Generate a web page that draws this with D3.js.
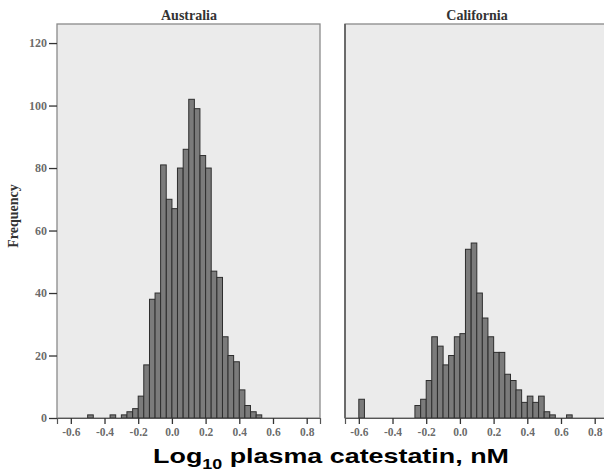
<!DOCTYPE html>
<html><head><meta charset="utf-8">
<script src="https://cdn.jsdelivr.net/npm/d3@7"></script>
<style>body{margin:0;background:#fff}svg{display:block}</style>
</head><body>
<script>
// Histogram bins: lower edges (bin width = 1/30 in log10 units)
const binWidth = 1 / 30;
const binStarts = [-0.600,-0.567,-0.533,-0.500,-0.467,-0.433,-0.400,-0.367,-0.333,-0.300,
  -0.267,-0.233,-0.200,-0.167,-0.133,-0.100,-0.067,-0.033,0.000,0.033,
  0.067,0.100,0.133,0.167,0.200,0.233,0.267,0.300,0.333,0.367,
  0.400,0.433,0.467,0.500,0.533,0.567,0.600,0.633];
const australia = [0,0,0,1,0,0,0,1,0,1,
  2,3,7,17,38,40,81,70,67,80,
  86,102,99,84,80,47,45,26,20,18,
  9,4,2,1,0,0,0,0];
const california = [6,0,0,0,0,0,0,0,0,0,
  4,6,12,26,23,17,20,26,27,54,
  56,40,32,26,21,21,14,12,9,5,
  7,5,7,2,1,0,0,1];
const panelTitles = ["Australia", "California"];
const xTicks = [-0.6,-0.4,-0.2,0.0,0.2,0.4,0.6,0.8];
const yTicks = [0,20,40,60,80,100,120];

(function () {
const W = 604, H = 475;
const svg = d3.select("body").append("svg").attr("width", W).attr("height", H);
svg.append("rect").attr("width", W).attr("height", H).attr("fill", "#fff");

const plotTop = 24, plotBottom = 418, panelW = 263;
const panelLefts = [57, 345];
const y = d3.scaleLinear().domain([0, 126.1]).range([plotBottom, plotTop]);
const serif = "'Liberation Serif','DejaVu Serif',serif";

[australia, california].forEach((counts, p) => {
  const left = panelLefts[p];
  const x = d3.scaleLinear().domain([-0.682, 0.879]).range([left, left + panelW]);
  const g = svg.append("g");
  g.append("rect").attr("x", left).attr("y", plotTop).attr("width", panelW).attr("height", plotBottom - plotTop)
    .attr("fill", "#ebebeb").attr("stroke", "#8a8a8a").attr("stroke-width", 1.3);
  if (p === 1) {
    g.append("line").attr("x1", left).attr("x2", left).attr("y1", plotTop).attr("y2", plotBottom)
      .attr("stroke", "#555").attr("stroke-width", 1.5);
  }
  g.selectAll("rect.bar").data(binStarts.map((s, i) => ({s, c: counts[i]})))
    .join("rect").attr("class", "bar")
    .attr("x", d => x(d.s)).attr("width", d => x(d.s + binWidth) - x(d.s))
    .attr("y", d => y(d.c)).attr("height", d => y(0) - y(d.c))
    .attr("fill", "#7b7b7b").attr("stroke", "#2e2e2e").attr("stroke-width", 1);
  const xa = g.append("g").attr("transform", `translate(0,${plotBottom})`)
    .call(d3.axisBottom(x).tickValues(xTicks).tickSize(6).tickPadding(4));
  xa.select(".domain").attr("stroke", "#555").attr("stroke-width", 1.2);
  xa.selectAll(".tick line").attr("stroke", "#333").attr("stroke-width", 1.3);
  xa.selectAll(".tick text").attr("font-family", serif).attr("font-size", 11.5).attr("fill", "#444")
    .attr("font-weight", "bold").attr("fill-opacity", 0.8)
    .text(d => d3.format(".1f")(d).replace("\u2212", "-"));
  svg.append("text").attr("x", left + panelW / 2 + 0.5).attr("y", 20).attr("text-anchor", "middle")
    .attr("font-family", serif).attr("font-weight", "bold").attr("font-size", 14).attr("fill", "#333")
    .text(panelTitles[p]);
  if (p === 0) {
    const ya = g.append("g").attr("transform", `translate(${left},0)`)
      .call(d3.axisLeft(y).tickValues(yTicks).tickSize(8).tickPadding(2));
    ya.select(".domain").remove();
    ya.selectAll(".tick line").attr("stroke", "#333").attr("stroke-width", 1.3);
    ya.selectAll(".tick text").attr("font-family", serif).attr("font-size", 12).attr("fill", "#444")
      .attr("font-weight", "bold").attr("fill-opacity", 0.8);
  }
});

svg.append("text").attr("transform", "translate(18,216) rotate(-90)").attr("text-anchor", "middle")
  .attr("font-family", serif).attr("font-weight", "bold").attr("font-size", 14).attr("fill", "#333")
  .text("Frequency");

const xt = svg.append("text").attr("transform", "translate(331,463) scale(1.28,1)").attr("text-anchor", "middle")
  .attr("font-family", "'Liberation Sans',Arial,sans-serif").attr("font-weight", "bold")
  .attr("font-size", 21).attr("fill", "#000");
xt.append("tspan").text("Log");
xt.append("tspan").attr("font-size", 14).attr("dy", 6).text("10");
xt.append("tspan").attr("dy", -6).text(" plasma catestatin, nM");
})();
</script>
</body></html>
